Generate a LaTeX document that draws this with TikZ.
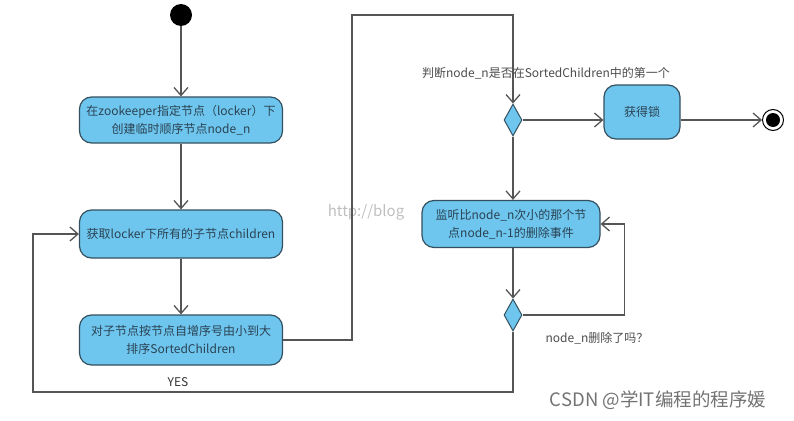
\documentclass[tikz,border=0pt]{standalone}
\usepackage{fontspec}
\setmainfont{Noto Sans CJK SC}
\usepackage{xcolor}
\usetikzlibrary{arrows.meta, shapes.geometric}
\definecolor{actfill}{HTML}{6EC6EF}
\definecolor{actline}{HTML}{34505E}
\definecolor{acttext}{HTML}{2A4252}
\definecolor{wire}{HTML}{555555}

\begin{document}
\begin{tikzpicture}[x=1pt, y=-1pt,
    act/.style={draw=actline, fill=actfill, line width=1.2pt, rounded corners=12pt,
                align=center, text=acttext, font=\fontsize{12}{18}\selectfont, inner sep=2pt},
    choice/.style={diamond, draw=actline, fill=actfill, line width=1pt,
                   minimum width=18pt, minimum height=32pt, inner sep=0pt},
    flow/.style={draw=wire, line width=1.3pt, -{Straight Barb[length=8pt, width=14pt]}},
    note/.style={text=black!70, font=\fontsize{12}{14}\selectfont}]
  \useasboundingbox (0,0) rectangle (794,420);
  % watermark behind the activities
  \node[text=black!25, font=\rmfamily\fontsize{15}{15}\selectfont] (mark) at (366,212) {http://blog};
  % Start node
  \node[circle, fill=black, minimum size=22pt, inner sep=0pt] (start) at (181,15) {};
  % Left column of activities
  \node[act, minimum width=203pt, minimum height=46pt] (create) at (181,120)
       {在zookeeper指定节点（locker）下\\创建临时顺序节点node\_n};
  \node[act, minimum width=203pt, minimum height=48pt] (getall) at (181,234)
       {获取locker下所有的子节点children};
  \node[act, minimum width=203pt, minimum height=50pt] (sort) at (181,340)
       {对子节点按节点自增序号由小到大\\排序SortedChildren};
  % Right column: decisions and activities
  \node[choice] (check) at (513,120) {};
  \node[act, minimum width=76pt, minimum height=54pt] (lock) at (642,112) {获得锁};
  \node[act, minimum width=178pt, minimum height=47pt] (watch) at (511,224)
       {监听比node\_n次小的那个节\\点node\_n-1的删除事件};
  \node[choice] (gone) at (513,315) {};
  % Final node
  \node[circle, draw=black, line width=1pt, minimum size=21pt, inner sep=0pt] (final) at (773,120) {};
  \fill (final) circle (7pt);
  % Bend points
  \coordinate (top) at (352,15);
  \coordinate (low) at (33,392);
  % Connectors
  \draw[flow] (start) -- (create);
  \draw[flow] (create) -- (getall);
  \draw[flow] (getall) -- (sort);
  \draw[flow] (sort.east) -| (top) -| (check.north);
  \draw[flow] (check.east) -- (check.east -| lock.west);
  \draw[flow] (lock.east |- check.east) -- (final.west);
  \draw[flow] (check.south) -- (check.south |- watch.north);
  \draw[flow] (gone.north |- watch.south) -- (gone.north);
  \draw[flow] (gone.east) -- ++(102,0) |- (watch.east);
  \draw[flow] (gone.south) |- (low) |- (getall.west);
  % Labels
  \node[note] (ask1) at (546,73) {判断node\_n是否在SortedChildren中的第一个};
  \node[note] (ask2) at (597,338) {node\_n删除了吗？};
  \node[note, text=black!80] (yes) at (178,382) {YES};
  \node[text=black!55, font=\fontsize{18.5}{18.5}\selectfont] (csdn) at (658,400) {CSDN @学IT编程的程序媛};
\end{tikzpicture}
\end{document}
